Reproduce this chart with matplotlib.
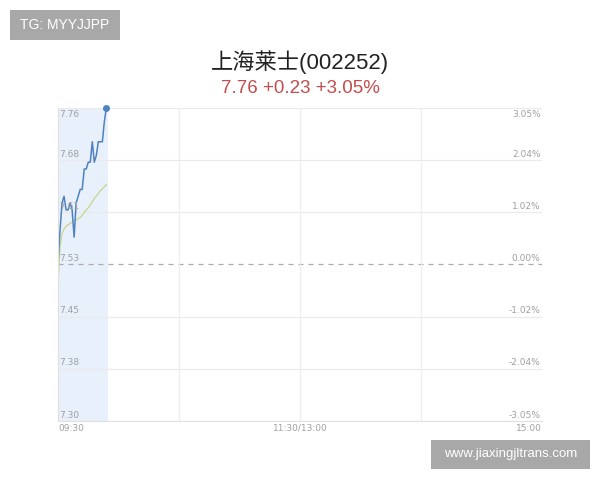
import numpy as np
import matplotlib
matplotlib.use('Agg')
import matplotlib.pyplot as plt
from matplotlib.patches import Rectangle

plt.rcParams['font.family'] = ['Liberation Sans', 'Noto Sans CJK SC', 'DejaVu Sans']

# intraday minute data (09:30 onward)
minutes = list(range(25))
price = [7.53, 7.58, 7.62, 7.63, 7.61, 7.61, 7.62, 7.61, 7.57, 7.62,
         7.63, 7.64, 7.64, 7.67, 7.67, 7.68, 7.68, 7.71, 7.68, 7.69,
         7.71, 7.71, 7.71, 7.74, 7.76]
avg_price = [7.50, 7.556, 7.575, 7.582, 7.586, 7.588, 7.590, 7.592, 7.594, 7.595,
             7.597, 7.599, 7.602, 7.606, 7.610, 7.613, 7.617, 7.622, 7.627, 7.630,
             7.634, 7.638, 7.641, 7.644, 7.647]

prev_close = 7.53
y_ticks = [7.30, 7.3767, 7.4533, 7.53, 7.6067, 7.6833, 7.76]
y_labels = ['7.30', '7.38', '7.45', '7.53', '7.61', '7.68', '7.76']
pct_labels = ['-3.05%', '-2.04%', '-1.02%', '0.00%', '1.02%', '2.04%', '3.05%']
x_labels = ['09:30', '11:30/13:00', '15:00']
title = '上海莱士(002252)'
subtitle = '7.76 +0.23 +3.05%'

fig = plt.figure(figsize=(6, 4.8), dpi=100)
ax = fig.add_axes([58/600, 1-421/480, 484/600, 313.3/480])

ax.set_xlim(0, 240)
ax.set_ylim(y_ticks[0], y_ticks[-1])

# grid
for y in y_ticks:
    if y == prev_close:
        ax.axhline(y, color='#aaaaaa', lw=0.9, ls=(0, (4, 4)))
    else:
        ax.axhline(y, color='#eaeaea', lw=0.9)
for x in [60, 120, 180]:
    ax.axvline(x, color='#eeeeee', lw=0.9)

# elapsed band
ax.axvspan(0, minutes[-1] + 0.6, color='#e8f0fc', lw=0)

ax.plot(minutes, avg_price, color='#c9d58c', lw=0.9)
ax.plot(minutes, price, color='#4f82c0', lw=1.1)
ax.plot(minutes[-1], price[-1], 'o', color='#4f82c0', ms=4, clip_on=False)

for s in ['top', 'right']:
    ax.spines[s].set_visible(False)
ax.spines['left'].set_color('#e0e0e0')
ax.spines['bottom'].set_color('#e0e0e0')
ax.set_xticks([])
ax.set_yticks([])

lab = dict(fontsize=6.5, color='#a0a0a0', family='DejaVu Sans')
for i, y in enumerate(y_ticks):
    va = 'top' if i == len(y_ticks) - 1 else 'bottom'
    off = -2 if va == 'top' else 1
    ax.annotate(y_labels[i], (0, y), xytext=(1, off), textcoords='offset points',
                ha='left', va=va, **lab)
    ax.annotate(pct_labels[i], (240, y), xytext=(-1, off), textcoords='offset points',
                ha='right', va=va, **lab)

for x, t, ha in zip([0, 120, 240], x_labels, ['left', 'center', 'right']):
    ax.annotate(t, (x, y_ticks[0]), xytext=(0, -2), textcoords='offset points',
                ha=ha, va='top', **lab)

fig.text(0.5, 1-62/480, title, ha='center', va='center', fontsize=16, color='#222222')
fig.text(0.5, 1-88.5/480, subtitle, ha='center', va='center', fontsize=13.5, color='#c44c4c')

# watermark boxes
fig.patches.append(Rectangle((10/600, 1-40/480), 110/600, 30/480, transform=fig.transFigure,
                             fc='#a8a8a8', ec='none'))
fig.text(65/600, 1-25/480, 'TG: MYYJJPP', ha='center', va='center', fontsize=10,
         color='white')
fig.patches.append(Rectangle((431/600, 1-469/480), 159/600, 29/480, transform=fig.transFigure,
                             fc='#a8a8a8', ec='none'))
fig.text(510.5/600, 1-454/480, 'www.jiaxingjltrans.com', ha='center', va='center',
         fontsize=9.5, color='white')

fig.savefig('out.png', dpi=100)
